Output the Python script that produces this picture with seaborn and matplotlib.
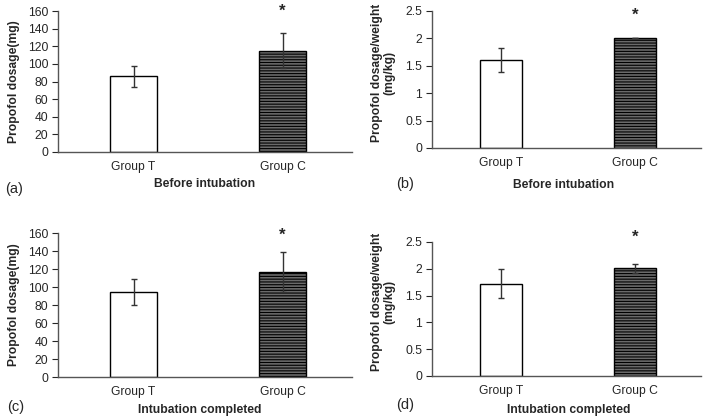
import matplotlib
matplotlib.use("Agg")
import matplotlib.pyplot as plt
import seaborn as sns
import pandas as pd

sns.set_style("white")
plt.rcParams['font.family'] = ['Liberation Sans', 'DejaVu Sans']
plt.rcParams['hatch.linewidth'] = 0.8

groups = ["Group T", "Group C"]
dose_before = [86, 115]
dose_before_err = [12, 20]
wt_before = [1.6, 2.0]
wt_before_err = [0.22, 0.0]
dose_after = [94, 117]
dose_after_err = [14.5, 22]
wt_after = [1.72, 2.01]
wt_after_err = [0.27, 0.08]

W, H = 712, 420
fig = plt.figure(figsize=(W / 100, H / 100), dpi=100)

def px_axes(x0, x1, ytop, ybot):
    return fig.add_axes([x0 / W, (H - ybot) / H, (x1 - x0) / W, (ybot - ytop) / H])

panels = [
    dict(box=(58, 352, 11, 152), vals=dose_before, err=dose_before_err, ymax=160, step=20,
         ylab="Propofol dosage(mg)", xlab="Before intubation", tag="(a)",
         xlim=(-0.507, 1.466), star=160, fmt="{:.0f}"),
    dict(box=(432, 701, 11, 148), vals=wt_before, err=wt_before_err, ymax=2.5, step=0.5,
         ylab="Propofol dosage/weight\n(mg/kg)", xlab="Before intubation", tag="(b)",
         xlim=(-0.515, 1.493), star=2.43, fmt="{:g}"),
    dict(box=(58, 352, 233, 377), vals=dose_after, err=dose_after_err, ymax=160, step=20,
         ylab="Propofol dosage(mg)", xlab="Intubation completed", tag="(c)",
         xlim=(-0.507, 1.466), star=158, fmt="{:.0f}"),
    dict(box=(432, 701, 242, 376), vals=wt_after, err=wt_after_err, ymax=2.5, step=0.5,
         ylab="Propofol dosage/weight\n(mg/kg)", xlab="Intubation completed", tag="(d)",
         xlim=(-0.515, 1.493), star=2.58, fmt="{:g}"),
]

tag_pos = [(5, 189), (396, 184), (7, 407), (396, 405)]
xlab_pos = [(205, 184), (564, 185), (200, 410), (569, 410)]
ylab_right = [20, 395, 20, 395]
ylab_yc = [0.5, 0.55, 0.5, 0.55]

for p, tp, xp, lr, lyc in zip(panels, tag_pos, xlab_pos, ylab_right, ylab_yc):
    x0, x1, yt, yb = p["box"]
    ax = px_axes(x0, x1, yt, yb)
    df = pd.DataFrame({"group": groups, "value": p["vals"]})
    sns.barplot(data=df, x="group", y="value", ax=ax, width=0.315,
                errorbar=None, color="white", saturation=1)
    for i, patch in enumerate(ax.patches):
        patch.set_edgecolor("black")
        patch.set_linewidth(1.0)
        if i == 1:
            patch.set_facecolor("#6a6a6a")
            patch.set_hatch("------")
    ax.errorbar(range(len(groups)), p["vals"], yerr=p["err"], fmt="none",
                ecolor="#333333", elinewidth=1.0, capsize=2.5, capthick=1.0)
    ax.text(1, p["star"], "*", ha="center", va="center", fontsize=12, fontweight="bold")
    ax.set_xlim(*p["xlim"])
    ax.set_ylim(0, p["ymax"])
    n = int(round(p["ymax"] / p["step"]))
    ticks = [p["step"] * k for k in range(n + 1)]
    ax.set_yticks(ticks)
    ax.set_yticklabels([p["fmt"].format(t) for t in ticks])
    ax.set_xlabel("")
    ax.set_ylabel(p["ylab"], fontsize=8.7, fontweight="bold", linespacing=0.95)
    ax.yaxis.set_label_coords((lr - x0) / (x1 - x0), lyc)
    ax.tick_params(axis="y", which="major", left=True, length=4, width=0.8, labelsize=8.7, pad=3)
    ax.tick_params(axis="x", bottom=False, labelsize=8.7, pad=3)
    for s in ["top", "right"]:
        ax.spines[s].set_visible(False)
    for s in ["left", "bottom"]:
        ax.spines[s].set_color("#555555")
        ax.spines[s].set_linewidth(1.0)
    fig.text(xp[0] / W, 1 - xp[1] / H, p["xlab"], ha="center", va="center",
             fontsize=8.7, fontweight="bold")
    fig.text(tp[0] / W, 1 - tp[1] / H, p["tag"], ha="left", va="center", fontsize=10.5)

fig.savefig("out.png", dpi=100, facecolor="white")
